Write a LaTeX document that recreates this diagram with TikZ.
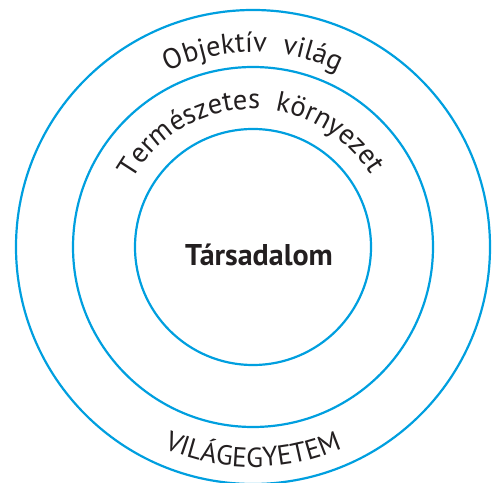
\documentclass[tikz,border=0pt]{standalone}
\usepackage{fontspec}
\setmainfont{PT Sans}
\newfontfamily\labfont{PT Sans}
\usetikzlibrary{decorations.text}
\definecolor{ringblue}{RGB}{0,159,223}
\definecolor{inkdark}{RGB}{35,31,32}
\tikzset{
  ring/.style={draw=ringblue, line width=2.2pt},
  arclabel/.style={decorate, decoration={text along path, text align=center, text color=inkdark}}
}
\begin{document}
\begin{tikzpicture}[x=1pt,y=1pt]
\useasboundingbox (0,0) rectangle (497,482);
\coordinate (c) at (253,235);
\draw[ring] (c) circle[radius=237];
\draw[ring] (c) circle[radius=180];
\draw[ring] (c) circle[radius=118];
\path[arclabel, decoration={text={|\labfont\fontsize{28.5}{30}\selectfont|Objektív{ }{ }világ}}]
  (c) ++(160:195) arc[start angle=160, end angle=20, radius=195];
\path[arclabel, decoration={text={|\labfont\fontsize{28.5}{30}\selectfont|Természetes{ }{ }környezet}}]
  (c) ++(176:138) arc[start angle=176, end angle=6, radius=138];
\path[arclabel, decoration={text={|\labfont\fontsize{27.5}{30}\selectfont|VILÁGEGYETEM}}]
  (c) ++(200:220) arc[start angle=200, end angle=340, radius=220];
\node[anchor=base, text=inkdark, font=\bfseries\fontsize{30}{32}\selectfont, inner sep=0pt] (tars) at (259,216) {Társadalom};
\end{tikzpicture}
\end{document}
